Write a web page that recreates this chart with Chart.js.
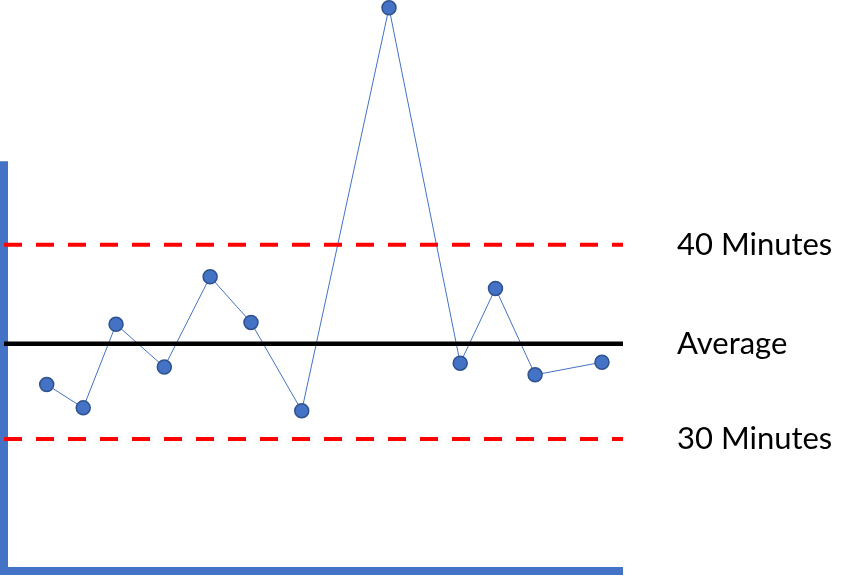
<!DOCTYPE html>
<html>
<head>
<meta charset="utf-8">
<script src="https://cdn.jsdelivr.net/npm/chart.js@4"></script>
<style>
  html, body { margin: 0; padding: 0; background: #fff; }
  #wrap { width: 854px; height: 577px; position: relative; }
</style>
</head>
<body>
<div id="wrap"><canvas id="chart"></canvas></div>
<script>
// readings (x = position along the run, y = minutes)
const runX = [6.9, 12.8, 18.1, 25.9, 33.3, 39.9, 48.1, 62.2, 73.7, 79.4, 85.8, 96.6]
const runY = [32.8, 31.6, 35.9, 33.7, 38.35, 36.0, 31.45, 52.2, 33.9, 37.75, 33.3, 33.95]

// control levels
const upperLimit = 40
const average = 34.9
const lowerLimit = 30
const levelLabels = ['40 Minutes', 'Average', '30 Minutes']
const levelValues = [upperLimit, average, lowerLimit]

const xMin = 0
const xMax = 100
const yMin = 23.2
const yMax = 52.6
const axisTop = 44.3

const blue = '#4472C4'

const flatLine = (v) => [{ x: xMin, y: v }, { x: xMax, y: v }]

const axesPlugin = {
  id: 'axes',
  beforeDatasetsDraw(chart) {
    const { ctx, chartArea, scales } = chart
    const top = scales.y.getPixelForValue(axisTop)
    ctx.save()
    ctx.strokeStyle = blue
    ctx.lineWidth = 8
    ctx.beginPath()
    ctx.moveTo(chartArea.left, top)
    ctx.lineTo(chartArea.left, chartArea.bottom + 4)
    ctx.moveTo(chartArea.left - 4, chartArea.bottom)
    ctx.lineTo(chartArea.right, chartArea.bottom)
    ctx.stroke()
    ctx.restore()
  },
  afterDraw(chart) {
    const { ctx, scales } = chart
    ctx.save()
    ctx.fillStyle = '#000'
    ctx.font = '31px Lato'
    ctx.textBaseline = 'middle'
    levelLabels.forEach((label, i) => {
      ctx.fillText(label, 677, scales.y.getPixelForValue(levelValues[i]))
    })
    ctx.restore()
  }
}

new Chart(document.getElementById('chart'), {
  type: 'line',
  data: {
    datasets: [
      {
        data: flatLine(upperLimit),
        borderColor: '#FF0000',
        borderWidth: 4,
        borderDash: [18, 14],
        pointRadius: 0,
        order: 1
      },
      {
        data: flatLine(average),
        borderColor: '#000',
        borderWidth: 4.5,
        pointRadius: 0,
        order: 1
      },
      {
        data: flatLine(lowerLimit),
        borderColor: '#FF0000',
        borderWidth: 4,
        borderDash: [18, 14],
        pointRadius: 0,
        order: 1
      },
      {
        data: runX.map((x, i) => ({ x: x, y: runY[i] })),
        borderColor: blue,
        borderWidth: 1,
        pointRadius: 7,
        pointBackgroundColor: blue,
        pointBorderColor: '#2F528F',
        pointBorderWidth: 1.5,
        clip: false,
        order: 2
      }
    ]
  },
  options: {
    responsive: true,
    maintainAspectRatio: false,
    animation: false,
    layout: { autoPadding: false, padding: { left: 4, right: 231, top: 0, bottom: 6 } },
    plugins: { legend: { display: false }, tooltip: { enabled: false } },
    scales: {
      x: { type: 'linear', min: xMin, max: xMax, display: false },
      y: { min: yMin, max: yMax, display: false }
    }
  },
  plugins: [axesPlugin]
})
</script>
</body>
</html>
